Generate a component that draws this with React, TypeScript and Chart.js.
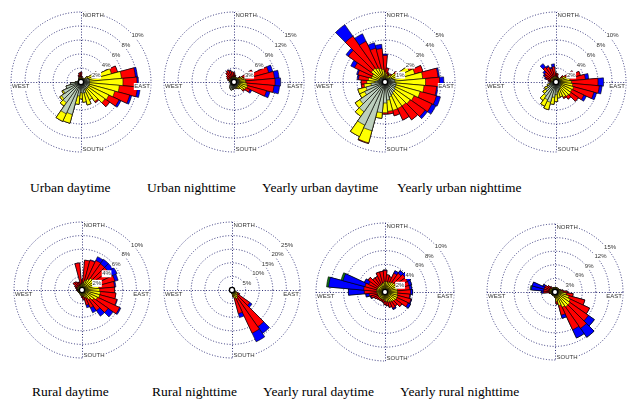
import React, { useEffect, useRef } from 'react';
import { Chart, registerables } from 'chart.js';

Chart.register(...registerables);

// 36 wind directions, 10° sectors, clockwise from north
const directionLabels = Array.from({ length: 36 }, (_, i) => `${i * 10}°`);

// ---------- Urban daytime (max 10%) ----------
const urbanDayGray = [.3,.3,.3,.3,.4,.6,1.0,1.2,1.2,1.2,1.2,1.2,1.2,1.2,1.2,1.2,1.6,1.6,1.5,2.0,4.8,5.0,3.6,3.4,2.8,2.2,1.5,.8,.5,.4,.4,.4,.4,.4,.4,.4];
const urbanDayYellow = [.3,.2,.2,.2,.3,.6,1.6,3.3,4.6,4.8,4.3,3.8,3.2,3.0,2.2,1.6,1.8,1.3,.9,1.2,1.3,1.2,.6,.3,.2,0,0,0,0,0,0,0,.1,.2,.3,.3];
const urbanDayRed = [.8,.3,0,0,0,0,0,.9,2.0,2.0,2.6,2.2,1.6,.8,.2,0,0,0,0,0,0,0,0,0,0,0,0,0,0,0,0,0,0,0,.3,.6];
const urbanDayBlue = [0,0,0,0,0,0,0,0,.3,.2,.4,.3,.3,0,0,0,0,0,0,0,0,0,0,0,0,0,0,0,0,0,0,0,0,0,0,0];

// ---------- Urban nighttime (max 15%) ----------
const urbanNightOlive = [.5,.5,.4,.4,.4,.4,.5,.5,.5,.5,.5,.5,.5,.5,.5,.5,.6,.6,.8,.8,.8,.8,.7,.6,.5,.5,.5,.5,.5,.5,.5,.5,.5,.5,.5,.5];
const urbanNightGray = [.3,.3,.3,.3,.3,.4,.5,.5,.5,.5,.5,.5,.5,.5,.5,.6,.6,.5,.6,.8,1.0,.8,.6,.5,.4,.3,.3,.3,.3,.3,.3,.3,.3,.3,.3,.3];
const urbanNightYellow = [.3,.3,.3,.3,.4,.6,1.0,1.2,1.5,1.5,1.8,2.0,1.8,1.5,.8,.4,.3,0,0,0,0,0,0,0,0,0,0,0,.2,.3,.3,.2,.2,.2,.2,.2];
const urbanNightRed = [.9,.4,0,0,0,.3,2.5,5.5,6.2,6.3,5.8,4.2,1.0,.3,0,0,0,0,0,0,0,0,0,0,0,0,0,0,0,.3,.6,1.0,1.5,1.8,1.5,1.2];
const urbanNightBlue = [0,0,0,0,0,0,0,.9,1.0,1.2,1.2,.8,.4,0,0,0,0,0,0,0,0,0,0,0,0,0,0,0,0,0,0,0,0,0,.2,0];

// ---------- Yearly urban daytime (max 5%) ----------
const yUrbanDayGray = [.2,.2,.2,.2,.3,.4,.5,.6,.7,.7,.8,.8,.8,.9,.9,1.0,1.1,1.3,1.5,2.2,3.6,3.4,2.6,2.2,1.6,1.4,1.0,.7,.5,.4,.4,.4,.4,.3,.3,.3];
const yUrbanDayYellow = [.5,.4,.3,.3,.3,.5,1.4,1.6,2.0,2.2,2.0,1.8,1.5,1.3,1.2,1.1,1.0,.8,.7,.4,.9,.9,.4,.4,.4,.6,.5,.6,.7,.6,.6,.8,.8,.8,.7,.6];
const yUrbanDayRed = [1.2,.4,.2,.1,.1,.2,.3,.6,1.1,1.0,.9,1.2,1.4,1.3,1.2,.9,.4,.2,.1,0,.05,0,0,0,0,0,.2,.4,.7,1.0,1.4,2.0,2.8,2.1,1.5,1.5];
const yUrbanDayBlue = [.1,0,0,0,0,0,0,0,.1,.3,.1,.3,.3,.2,0,0,0,0,0,0,0,0,0,0,0,0,0,0,.1,.1,.3,.2,1.0,.6,.4,.3];

// ---------- Yearly urban nighttime (max 10%) ----------
const yUrbanNightGray = [.4,.4,.3,.3,.3,.4,.5,.6,.6,.6,.6,.6,.7,.8,.9,1.0,1.2,1.4,1.8,2.2,3.0,2.8,2.4,1.8,1.4,1.0,.7,.5,.4,.4,.4,.4,.4,.4,.4,.4];
const yUrbanNightYellow = [.3,.3,.3,.3,.3,.5,1.0,1.2,1.4,1.6,1.8,2.0,1.8,1.8,1.6,1.4,1.0,.9,1.0,1.0,1.1,1.0,.8,.5,.4,.3,.2,.2,.3,.3,.4,.4,.4,.4,.4,.4];
const yUrbanNightRed = [.6,.5,.2,0,.1,.4,1.3,1.8,2.2,3.8,3.8,3.0,1.9,1.3,.5,.2,0,0,0,0,0,0,0,0,0,0,0,.1,.4,.8,1.0,1.2,1.8,1.6,1.2,1.4];
const yUrbanNightBlue = [0,0,0,0,0,0,0,0,.5,.8,.4,.4,.4,0,0,0,0,0,0,0,0,0,0,0,0,0,0,0,0,.2,.2,.3,.6,.2,.2,.4];

// ---------- Rural daytime (max 10%) ----------
const ruralDayGray = [.3,.3,.3,.3,.3,.3,.3,.3,.3,.3,.3,.3,.3,.3,.3,.3,.3,.3,.3,.4,.4,.4,.4,.4,.4,.4,.4,.4,.4,.4,.4,.4,.4,.4,.3,.3];
const ruralDayYellow = [.6,.8,1.2,1.5,1.8,2.0,2.2,2.2,2.2,2.3,2.4,2.4,2.2,1.8,1.4,1.0,.8,.6,.5,.4,.3,.2,.2,.2,.2,.2,.2,.2,.2,.3,.3,.3,.3,.3,.4,.5];
const ruralDayRed = [.6,3.3,3.0,3.0,2.6,2.4,2.4,2.5,2.3,2.2,2.3,2.6,3.6,2.6,2.0,1.6,1.2,.5,.3,0,0,0,0,0,0,0,.1,.2,.2,.3,.5,.9,.8,.6,.5,3.2];
const ruralDayBlue = [0,0,.1,.6,.8,.8,.8,.5,.2,0,0,.1,.2,.9,1.0,.8,.4,.1,0,0,0,0,0,0,0,0,0,0,0,0,0,0,0,0,0,0];

// ---------- Rural nighttime (max 25%) ----------
const ruralNightOlive = [.4,.4,.4,.4,.4,.4,.4,.4,.4,.4,.4,.5,.5,.5,.5,.5,.5,.5,.5,.5,.5,.4,.4,.4,.4,.4,.4,.4,.4,.4,.4,.4,.4,.4,.4,.4];
const ruralNightGray = [.3,.3,.3,.3,.3,.3,.3,.3,.3,.3,.4,.4,.5,.5,.5,.5,.5,.5,.5,.4,.4,.3,.3,.3,.3,.3,.3,.2,.2,.2,.2,.2,.2,.2,.2,.2];
const ruralNightYellow = [0,0,0,.2,.2,.2,.2,0,0,.2,.3,.3,1.0,1.5,2.0,2.5,2.0,1.0,.3,.2,.1,0,0,0,0,0,0,0,0,0,0,0,0,0,0,0];
const ruralNightRed = [0,0,0,0,0,0,0,0,0,0,0,0,1.0,5.5,13.5,14.0,6.0,.5,0,0,0,0,0,0,0,0,0,0,0,0,0,0,0,0,0,0];
const ruralNightBlue = [0,0,0,0,0,0,0,0,0,0,0,0,.2,1.0,3.0,3.5,1.5,0,0,0,0,0,0,0,0,0,0,0,0,0,0,0,0,0,0,0];

// ---------- Yearly rural daytime (max 10%) ----------
const yRuralDayGray = [.3,.3,.3,.3,.3,.3,.3,.3,.3,.3,.3,.3,.3,.3,.3,.3,.3,.3,.3,.3,.3,.3,.3,.3,.3,.3,.3,.3,.3,.3,.3,.3,.3,.3,.3,.3];
const yRuralDayYellow = [1.2,1.2,1.2,1.3,1.4,1.5,1.5,1.5,1.5,1.5,1.5,1.6,1.6,1.5,1.4,1.3,1.2,1.1,1.0,.8,.8,.8,.8,.8,.8,.8,.8,.9,.9,.9,.9,.9,.9,.9,1.0,1.0];
const yRuralDayRed = [1.6,1.0,.8,1.4,1.6,1.8,1.8,1.8,1.8,1.9,1.8,2.0,1.8,1.2,.8,1.0,.8,.6,.5,.4,.3,.3,.3,.4,.6,1.0,1.2,1.8,1.9,1.8,1.4,1.8,1.3,1.3,1.7,1.7];
const yRuralDayBlue = [.1,0,0,.4,.5,.5,.5,.4,.3,.3,.1,.1,.4,0,0,.2,0,0,0,0,0,0,0,0,0,.1,.5,2.3,5.1,3.3,.7,0,0,0,0,0];
const yRuralDayGreen = [0,0,0,0,0,0,0,0,0,0,0,0,0,0,0,0,0,0,0,0,0,0,0,0,0,0,0,0,.3,.3,0,0,0,0,0,0];

// ---------- Yearly rural nighttime (max 15%) ----------
const yRuralNightOlive = [.3,.3,.3,.3,.3,.3,.3,.3,.3,.3,.3,.3,.3,.3,.3,.3,.3,.3,.3,.3,.3,.3,.3,.3,.3,.3,.3,.3,.3,.3,.3,.3,.3,.3,.3,.3];
const yRuralNightGray = [.4,.4,.4,.4,.4,.4,.4,.4,.4,.4,.4,.4,.4,.4,.4,.4,.4,.4,.4,.4,.4,.4,.4,.4,.4,.4,.4,.4,.4,.4,.4,.4,.4,.4,.4,.4];
const yRuralNightYellow = [.3,.3,.3,.3,.3,.3,.3,.4,.6,1.0,1.8,2.5,3.0,3.3,3.3,3.0,2.4,1.4,.5,.2,.2,.2,.2,.2,.2,.2,.3,.4,.5,.5,.5,.4,.3,.3,.3,.3];
const yRuralNightRed = [0,0,0,0,0,0,0,.2,.5,1.0,1.5,3.6,4.7,5.0,5.8,5.5,2.2,.6,0,0,0,0,0,0,0,0,.3,1.4,1.3,1.3,1.3,.9,.5,0,0,0];
const yRuralNightBlue = [0,0,0,0,0,0,0,0,0,0,0,0,0,1.6,2.4,2.0,.7,0,0,0,0,0,0,0,0,0,0,.5,2.7,2.7,.5,0,0,0,0,0];
const yRuralNightGreen = [0,0,0,0,0,0,0,0,0,0,0,0,0,0,0,0,0,0,0,0,0,0,0,0,0,0,0,0,.3,0,0,0,0,0,0,0];

// ---------- styles ----------
const OLIVE = '#77773a';
const GRAY = '#bccfbc';
const YELLOW = '#ffff00';
const RED = '#ff0000';
const BLUE = '#0000ff';
const GREEN = '#117a11';
const GRID = '#303078';
const PAD = 12;

type Layer = [number[], string];
type Rose = {
  title: string; cx: number; cy: number; R: number; max: number; step: number;
  titleX: number; titleY: number; layers: Layer[];
};

const roses: Rose[] = [
  { title: 'Urban daytime', cx: 81, cy: 82, R: 70, max: 10, step: 2, titleX: 30, titleY: 180.5,
    layers: [[urbanDayGray, GRAY], [urbanDayYellow, YELLOW], [urbanDayRed, RED], [urbanDayBlue, BLUE]] },
  { title: 'Urban nighttime', cx: 234, cy: 82, R: 70, max: 15, step: 3, titleX: 147, titleY: 180.5,
    layers: [[urbanNightOlive, OLIVE], [urbanNightGray, GRAY], [urbanNightYellow, YELLOW], [urbanNightRed, RED], [urbanNightBlue, BLUE]] },
  { title: 'Yearly urban daytime', cx: 385, cy: 82, R: 70, max: 5, step: 1, titleX: 262, titleY: 180.5,
    layers: [[yUrbanDayGray, GRAY], [yUrbanDayYellow, YELLOW], [yUrbanDayRed, RED], [yUrbanDayBlue, BLUE]] },
  { title: 'Yearly urban nighttime', cx: 556, cy: 82, R: 70, max: 10, step: 2, titleX: 397, titleY: 180.5,
    layers: [[yUrbanNightGray, GRAY], [yUrbanNightYellow, YELLOW], [yUrbanNightRed, RED], [yUrbanNightBlue, BLUE]] },
  { title: 'Rural daytime', cx: 82, cy: 290, R: 68, max: 10, step: 2, titleX: 32, titleY: 384.5,
    layers: [[ruralDayGray, GRAY], [ruralDayYellow, YELLOW], [ruralDayRed, RED], [ruralDayBlue, BLUE]] },
  { title: 'Rural nighttime', cx: 232, cy: 290, R: 68, max: 25, step: 5, titleX: 152, titleY: 384.5,
    layers: [[ruralNightOlive, OLIVE], [ruralNightGray, GRAY], [ruralNightYellow, YELLOW], [ruralNightRed, RED], [ruralNightBlue, BLUE]] },
  { title: 'Yearly rural daytime', cx: 385, cy: 292, R: 69, max: 10, step: 2, titleX: 263, titleY: 384.5,
    layers: [[yRuralDayGray, GRAY], [yRuralDayYellow, YELLOW], [yRuralDayRed, RED], [yRuralDayBlue, BLUE], [yRuralDayGreen, GREEN]] },
  { title: 'Yearly rural nighttime', cx: 555, cy: 292, R: 68, max: 15, step: 3, titleX: 400, titleY: 384.5,
    layers: [[yRuralNightOlive, OLIVE], [yRuralNightGray, GRAY], [yRuralNightYellow, YELLOW], [yRuralNightRed, RED], [yRuralNightBlue, BLUE], [yRuralNightGreen, GREEN]] },
];

const LABEL_FONT = '6px "Liberation Sans", Arial, sans-serif';

function labelBox(ctx: CanvasRenderingContext2D, text: string, x: number, y: number, align: 'left' | 'right') {
  const w = ctx.measureText(text).width;
  const left = align === 'left' ? x : x - w;
  ctx.fillStyle = '#ffffff';
  ctx.fillRect(left - 0.5, y - 3.5, w + 1, 7);
  ctx.fillStyle = '#333333';
  ctx.textAlign = align;
  ctx.textBaseline = 'middle';
  ctx.fillText(text, x, y);
}

const roseDecor = {
  id: 'roseDecor',
  beforeDatasetsDraw(chart: any) {
    const s = chart.scales.r;
    const ctx: CanvasRenderingContext2D = chart.ctx;
    const x = s.xCenter, y = s.yCenter, R = s.drawingArea;
    ctx.save();
    ctx.strokeStyle = GRID;
    ctx.lineWidth = 1;
    ctx.setLineDash([1, 1.8]);
    s.ticks.forEach((t: any) => {
      if (t.value <= 0) return;
      const r = s.getDistanceFromCenterForValue(t.value);
      ctx.beginPath();
      ctx.arc(x, y, r, 0, Math.PI * 2);
      ctx.stroke();
    });
    ctx.beginPath();
    ctx.moveTo(x - R, y + 0.5); ctx.lineTo(x + R, y + 0.5);
    ctx.moveTo(x + 0.5, y - R); ctx.lineTo(x + 0.5, y + R);
    ctx.stroke();
    ctx.restore();
  },
  afterDatasetsDraw(chart: any) {
    const s = chart.scales.r;
    const ctx: CanvasRenderingContext2D = chart.ctx;
    const x = s.xCenter, y = s.yCenter, R = s.drawingArea;
    ctx.save();
    // calm circle
    ctx.beginPath();
    ctx.arc(x, y, 2.6, 0, Math.PI * 2);
    ctx.fillStyle = '#ffffff';
    ctx.fill();
    ctx.lineWidth = 1.3;
    ctx.strokeStyle = '#000000';
    ctx.stroke();
    ctx.font = LABEL_FONT;
    // ring labels along the 45° direction
    s.ticks.forEach((t: any) => {
      if (t.value <= 0) return;
      const r = s.getDistanceFromCenterForValue(t.value);
      const px = x + r * Math.SQRT1_2 + 1;
      const py = y - r * Math.SQRT1_2 + 3;
      labelBox(ctx, `${t.value}%`, px, py, 'left');
    });
    labelBox(ctx, 'NORTH', x + 1.5, y - R + 3, 'left');
    labelBox(ctx, 'SOUTH', x + 1.5, y + R - 2.5, 'left');
    labelBox(ctx, 'WEST', x - R + 1, y + 4.5, 'left');
    labelBox(ctx, 'EAST', x + R - 1, y + 4.5, 'right');
    ctx.restore();
  },
};

function cumulative(layers: Layer[]): number[][] {
  const out: number[][] = [];
  let acc = new Array(36).fill(0);
  layers.forEach(([vals]) => {
    acc = acc.map((a, i) => +(a + vals[i]).toFixed(3));
    out.push(acc);
  });
  return out;
}

function RoseChart({ rose }: { rose: Rose }) {
  const ref = useRef<HTMLCanvasElement | null>(null);
  const size = 2 * rose.R + 2 * PAD;
  useEffect(() => {
    if (!ref.current) return;
    const cum = cumulative(rose.layers);
    const datasets = rose.layers.map(([, color], k) => ({
      label: `class ${k + 1}`,
      data: cum[k],
      backgroundColor: color,
      borderColor: '#000000',
      borderWidth: 0.6,
    }));
    const chart = new Chart(ref.current, {
      type: 'polarArea',
      data: { labels: directionLabels, datasets },
      options: {
        responsive: false,
        animation: false,
        layout: { padding: PAD },
        plugins: { legend: { display: false }, tooltip: { enabled: false } },
        scales: {
          r: {
            min: 0,
            max: rose.max,
            startAngle: -5,
            ticks: { display: false, stepSize: rose.step },
            grid: { display: false },
            angleLines: { display: false },
            pointLabels: { display: false },
          },
        },
      } as any,
      plugins: [roseDecor],
    });
    return () => chart.destroy();
  }, [rose]);
  return (
    <div style={{ position: 'absolute', left: rose.cx - rose.R - PAD, top: rose.cy - rose.R - PAD, width: size, height: size }}>
      <canvas ref={ref} width={size} height={size} style={{ width: size, height: size, display: 'block' }} />
    </div>
  );
}

export default function App() {
  return (
    <div style={{ position: 'absolute', left: 0, top: 0, width: 632, height: 403, background: '#ffffff', overflow: 'hidden' }}>
      {roses.map((r) => (
        <RoseChart key={r.title} rose={r} />
      ))}
      {roses.map((r) => (
        <div
          key={r.title + '-t'}
          style={{
            position: 'absolute', left: r.titleX, top: r.titleY, whiteSpace: 'nowrap',
            fontFamily: '"Liberation Serif", "Times New Roman", serif', fontSize: 13.5, lineHeight: 1, color: '#000',
          }}
        >
          {r.title}
        </div>
      ))}
    </div>
  );
}
